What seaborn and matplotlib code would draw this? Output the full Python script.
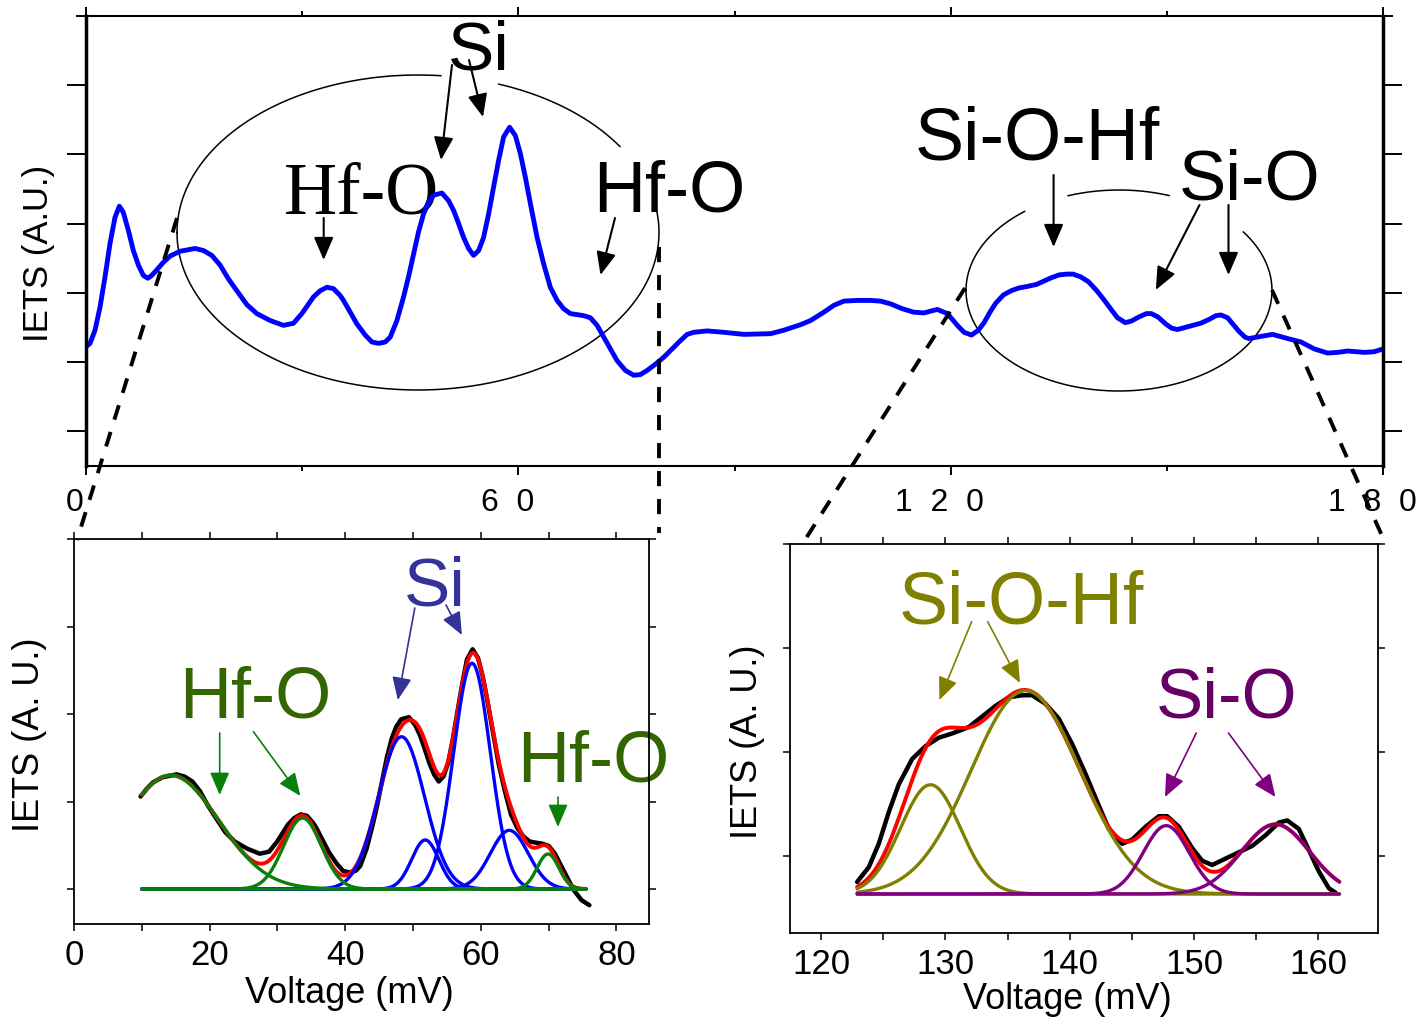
import numpy as np
import matplotlib
matplotlib.use("Agg")
import matplotlib.pyplot as plt
from matplotlib.transforms import ScaledTranslation
import seaborn as sns

# ---------------- measured IETS spectrum ----------------
voltage = [0.0, 0.56, 1.25, 1.94, 2.64, 3.33, 4.03, 4.63, 5.18, 5.88, 6.57, 7.27, 7.96,
           8.57, 9.12, 9.82, 10.74, 11.67, 13.06, 15.14, 16.30, 17.46, 18.61, 19.77,
           20.93, 22.32, 23.71, 25.56, 27.40, 28.79, 29.96, 31.57, 32.50, 33.43, 34.35,
           35.28, 35.74, 36.67, 37.60, 38.75, 39.68, 40.60, 41.53, 42.22, 43.15, 44.07,
           44.76, 45.46, 46.15, 46.85, 47.54, 48.24, 49.40, 50.32, 51.01, 51.71, 52.40,
           53.10, 53.79, 54.49, 55.18, 55.88, 56.57, 57.26, 57.96, 58.79, 59.58, 60.28,
           60.97, 61.67, 62.60, 63.51, 64.44, 65.38, 66.29, 67.22, 69.07, 70.00, 70.93,
           71.85, 72.78, 73.71, 74.86, 76.01, 76.94, 77.88, 79.03, 80.18, 81.35, 82.50,
           83.43, 84.35, 86.20, 88.51, 91.29, 95.00, 96.85, 99.17, 100.56, 102.40,
           103.80, 105.18, 107.00, 108.89, 110.28, 111.67, 113.29, 114.90, 116.29,
           118.15, 119.54, 120.93, 121.85, 122.90, 123.84, 124.64, 125.45, 126.25,
           127.33, 128.40, 129.47, 130.55, 131.88, 132.96, 134.03, 135.10, 136.18,
           136.98, 138.05, 139.12, 140.20, 141.27, 142.34, 143.15, 144.22, 145.03,
           146.10, 147.17, 147.84, 148.78, 149.85, 150.66, 151.46, 152.53, 153.60,
           154.68, 155.75, 156.82, 157.50, 158.43, 159.24, 160.04, 160.85, 161.38,
           163.06, 164.68, 166.76, 168.61, 170.46, 172.32, 173.70, 175.10, 177.40,
           178.79, 180.0]
iets = [1.22, 1.27, 1.46, 1.79, 2.23, 2.71, 3.09, 3.25, 3.16, 2.90, 2.61, 2.40, 2.25,
        2.21, 2.25, 2.33, 2.44, 2.53, 2.60, 2.64, 2.61, 2.54, 2.40, 2.20,
        2.03, 1.83, 1.70, 1.60, 1.53, 1.56, 1.70, 1.94, 2.03, 2.08, 2.06,
        1.96, 1.89, 1.72, 1.55, 1.39, 1.29, 1.27, 1.29, 1.36, 1.60, 1.94,
        2.23, 2.56, 2.88, 3.14, 3.31, 3.41, 3.44, 3.33, 3.19, 3.00, 2.80,
        2.64, 2.54, 2.61, 2.80, 3.14, 3.53, 3.91, 4.25, 4.39, 4.27, 4.01,
        3.67, 3.29, 2.80, 2.42, 2.08, 1.89, 1.77, 1.70, 1.67, 1.64, 1.53,
        1.36, 1.19, 1.02, 0.88, 0.81, 0.82, 0.88, 0.97, 1.07, 1.19, 1.31,
        1.40, 1.43, 1.45, 1.43, 1.40, 1.41, 1.46, 1.54, 1.60, 1.72,
        1.82, 1.88, 1.89, 1.89, 1.88, 1.84, 1.77, 1.72, 1.71,
        1.76, 1.70, 1.53, 1.43, 1.39, 1.46, 1.57, 1.72, 1.85,
        1.97, 2.03, 2.07, 2.09, 2.12, 2.17, 2.22, 2.26, 2.27,
        2.27, 2.23, 2.16, 2.04, 1.90, 1.75, 1.64, 1.57, 1.59,
        1.65, 1.70, 1.70, 1.65, 1.55, 1.49, 1.47, 1.50, 1.53,
        1.56, 1.61, 1.67, 1.68, 1.64, 1.54, 1.44, 1.36, 1.34,
        1.37, 1.40, 1.34, 1.29, 1.19, 1.13, 1.14, 1.16, 1.14,
        1.15, 1.19]

# ---------------- low-energy window: Hf-O and Si modes ----------------
lo_range = (9.8, 76.1)
lo_scale, lo_offset = 0.817, -0.847
hfo_center = [14.3, 33.7, 69.9]
hfo_height = [1.30, 0.81, 0.40]
hfo_sigma = [7.0, 2.8, 1.6]
si_center = [48.3, 51.8, 58.7, 64.2]
si_height = [1.74, 0.56, 2.58, 0.67]
si_sigma = [3.4, 2.0, 2.7, 2.8]

# ---------------- high-energy window: Si-O-Hf and Si-O modes ----------------
hi_range = (122.8, 161.5)
hi_scale, hi_offset = 2.04, -2.72
siohf_center = [128.8, 136.45]
siohf_height = [1.05, 1.955]
siohf_sigma = [2.4, 4.4]
sio_center = [147.76, 156.56]
sio_height = [0.657, 0.67]
sio_sigma = [1.85, 2.75]

top_xticks = [0, 60, 120, 180]
top_xlabels = ["0", "6  0", "1  2  0", "1  8  0"]
lo_xticks = [0, 20, 40, 60, 80]
hi_xticks = [120, 130, 140, 150, 160]


def gauss(v, c, h, s):
    return h * np.exp(-0.5 * ((v - c) / s) ** 2)


sns.set_theme(style="ticks")
plt.rcParams["font.family"] = ["Liberation Sans", "DejaVu Sans"]
plt.rcParams.update({
    "axes.edgecolor": "black", "xtick.color": "black", "ytick.color": "black",
    "text.color": "black", "axes.labelcolor": "black",
})

W, H = 1422, 1017
fig = plt.figure(figsize=(W / 100, H / 100), dpi=100, facecolor="white")


def px_box(l, t, r, b):
    return [l / W, 1 - b / H, (r - l) / W, (b - t) / H]


ov_back = fig.add_axes([0, 0, 1, 1], zorder=0)
ax_top = fig.add_axes(px_box(86, 15.7, 1383, 466), zorder=1)
ax_lo = fig.add_axes(px_box(74, 539, 649, 924), zorder=1)
ax_hi = fig.add_axes(px_box(790, 544, 1378, 933), zorder=1)
ov_front = fig.add_axes([0, 0, 1, 1], zorder=2)
for ov in (ov_back, ov_front):
    ov.set_xlim(0, W)
    ov.set_ylim(H, 0)
    ov.axis("off")
    ov.patch.set_alpha(0)
for ax in (ax_top, ax_lo, ax_hi):
    ax.patch.set_alpha(0)
    ax.grid(False)

v = np.array(voltage)
s = np.array(iets)

# ---------------- full spectrum ----------------
sns.lineplot(x=v, y=s, ax=ax_top, color="#0000ff", linewidth=3.5,
             sort=False, estimator=None, legend=False)
ax_top.set_xlim(0, 180)
ax_top.set_ylim(-0.5, 6.0)
for side in ("left", "right"):
    ax_top.spines[side].set_linewidth(2.5)
for side in ("top", "bottom"):
    ax_top.spines[side].set_linewidth(1.5)
ax_top.set_xticks(top_xticks)
ax_top.set_xticklabels(top_xlabels)
ax_top.set_xticks([30, 90, 150], minor=True)
ax_top.set_yticks(range(6))
ax_top.set_yticks([6.0], minor=True)
ax_top.tick_params(axis="x", which="major", direction="out", length=6.5, width=1.4,
                   top=True, bottom=True, labelsize=23, pad=9)
ax_top.tick_params(axis="x", which="minor", direction="out", length=3.5, width=1.4,
                   top=True, bottom=True)
ax_top.tick_params(axis="y", which="major", direction="out", length=13.5, width=1.4,
                   left=True, right=True, labelleft=False)
ax_top.tick_params(axis="y", which="minor", direction="out", length=7, width=1.4,
                   left=True, right=True, labelleft=False)
for lab in ax_top.get_xticklabels():
    lab.set_transform(lab.get_transform() + ScaledTranslation(-0.11, 0, fig.dpi_scale_trans))
ax_top.set_xlabel("")
ax_top.set_ylabel("IETS (A.U.)", fontsize=25, va="center")
ax_top.yaxis.set_label_coords(-0.037, 0.473)

# ---------------- low-energy window ----------------
m = (v >= lo_range[0]) & (v <= lo_range[1])
vlo = np.linspace(10, 75.5, 500)
lo_fit = sum(gauss(vlo, c, h, w) for c, h, w in zip(hfo_center, hfo_height, hfo_sigma)) \
    + sum(gauss(vlo, c, h, w) for c, h, w in zip(si_center, si_height, si_sigma))
sns.lineplot(x=v[m], y=lo_scale * s[m] + lo_offset, ax=ax_lo, color="black",
             linewidth=3.2, sort=False, estimator=None, legend=False)
sns.lineplot(x=vlo, y=lo_fit, ax=ax_lo, color="#ff0000", linewidth=2.8,
             sort=False, estimator=None, legend=False)
for c, h, w in zip(si_center, si_height, si_sigma):
    sns.lineplot(x=vlo, y=gauss(vlo, c, h, w), ax=ax_lo, color="#0000ff",
                 linewidth=2.4, sort=False, estimator=None, legend=False)
for c, h, w in zip(hfo_center, hfo_height, hfo_sigma):
    sns.lineplot(x=vlo, y=gauss(vlo, c, h, w), ax=ax_lo, color="#0a800a",
                 linewidth=2.4, sort=False, estimator=None, legend=False)
ax_lo.set_xlim(0, 84.8)
ax_lo.set_ylim(-0.4, 4.0)
ax_lo.set_xticks(lo_xticks)
ax_lo.set_xticks([10, 30, 50, 70], minor=True)
ax_lo.set_yticks([0, 1, 2, 3, 4])

# ---------------- high-energy window ----------------
m2 = (v >= hi_range[0]) & (v <= hi_range[1])
vhi = np.linspace(122.9, 161.7, 500)
hi_fit = sum(gauss(vhi, c, h, w) for c, h, w in zip(siohf_center, siohf_height, siohf_sigma)) \
    + sum(gauss(vhi, c, h, w) for c, h, w in zip(sio_center, sio_height, sio_sigma))
sns.lineplot(x=v[m2], y=hi_scale * s[m2] + hi_offset, ax=ax_hi, color="black",
             linewidth=3.2, sort=False, estimator=None, legend=False)
sns.lineplot(x=vhi, y=hi_fit, ax=ax_hi, color="#ff0000", linewidth=2.8,
             sort=False, estimator=None, legend=False)
for c, h, w in zip(siohf_center, siohf_height, siohf_sigma):
    sns.lineplot(x=vhi, y=gauss(vhi, c, h, w), ax=ax_hi, color="#808000",
                 linewidth=2.4, sort=False, estimator=None, legend=False)
for c, h, w in zip(sio_center, sio_height, sio_sigma):
    sns.lineplot(x=vhi, y=gauss(vhi, c, h, w), ax=ax_hi, color="#800080",
                 linewidth=2.4, sort=False, estimator=None, legend=False)
ax_hi.set_xlim(117.5, 164.8)
ax_hi.set_ylim(-0.375, 3.365)
ax_hi.set_xticks(hi_xticks)
ax_hi.set_xticks([125, 135, 145, 155], minor=True)
ax_hi.set_yticks([0.365, 1.365, 2.365, 3.365])

for ax, lx, ly, yx, yy in ((ax_lo, 0.479, -0.18, -0.078, 0.491),
                           (ax_hi, 0.471, -0.172, -0.073, 0.491)):
    for sp in ax.spines.values():
        sp.set_linewidth(1.3)
    ax.tick_params(axis="x", which="both", direction="out", length=5, width=1.1,
                   top=True, bottom=True, labelsize=25, pad=6)
    ax.tick_params(axis="y", which="both", direction="out", length=5, width=1.1,
                   left=True, right=True, labelleft=False)
    ax.set_xlabel("Voltage (mV)", fontsize=26, va="center")
    ax.xaxis.set_label_coords(lx, ly)
    ax.set_ylabel("IETS (A. U.)", fontsize=26, va="center")
    ax.yaxis.set_label_coords(yx, yy)


# ---------------- annotations ----------------
def ellipse(ax, cx, cy, a, b, gaps, **kw):
    t = np.arange(-180, 180.25, 0.25)
    keep = np.ones_like(t, dtype=bool)
    for g0, g1 in gaps:
        keep &= ~((t > g0) & (t < g1))
    x = np.where(keep, cx + a * np.cos(np.radians(t)), np.nan)
    y = np.where(keep, cy + b * np.sin(np.radians(t)), np.nan)
    ax.plot(x, y, **kw)


def arrow(ax, tail, tip, color, lw=1.5, hl=0.7, hw=0.3):
    ax.annotate("", xy=tip, xytext=tail,
                arrowprops=dict(arrowstyle=f"-|>,head_length={hl},head_width={hw}",
                                color=color, lw=lw, shrinkA=0, shrinkB=0,
                                mutation_scale=20))


ellipse(ov_back, 418, 232.5, 241, 157.5, [(-84.5, -70.6), (-33, -8)],
        color="black", lw=1.1)
ellipse(ov_back, 1119, 290.5, 153, 100.5, [(-128, -109.5), (-70.7, -35.9)],
        color="black", lw=1.1)

black_arrows = [((452, 65), (441, 160)), ((469, 60), (483, 117)),
                ((323.7, 218), (323.7, 260)), ((615, 218), (600.5, 275)),
                ((1053.6, 175), (1053.6, 247)), ((1199.5, 205), (1155.8, 290)),
                ((1228.5, 205), (1228.5, 275))]
for tail, tip in black_arrows:
    arrow(ov_back, tail, tip, "black", lw=1.5)

color_arrows = [((219.7, 733), (219.7, 795), "#0a800a"),
                ((253.4, 731.7), (300.4, 796), "#0a800a"),
                ((558, 797), (558, 827), "#0a800a"),
                ((414.8, 608), (397.8, 700), "#333399"),
                ((446, 605), (461.9, 635), "#333399"),
                ((971.6, 621.7), (939.4, 700), "#808000"),
                ((987.7, 621.7), (1020, 683), "#808000"),
                ((1196.3, 733), (1165, 797), "#800080"),
                ((1228.5, 733), (1275.5, 797), "#800080")]
for tail, tip, col in color_arrows:
    arrow(ov_back, tail, tip, col, lw=1.2, hl=0.7, hw=0.3)

sans = ["Liberation Sans", "DejaVu Sans"]
serif = ["Liberation Serif", "DejaVu Serif"]
labels = [
    ("Si", 479, 70, 50, "black", sans),
    ("Hf-O", 361.5, 213, 53, "black", serif),
    ("Hf-O", 669, 212, 52, "black", sans),
    ("Si-O-Hf", 1037, 159, 53, "black", sans),
    ("Si-O", 1249.5, 200, 51, "black", sans),
    ("Hf-O", 255.5, 718, 52, "#336600", sans),
    ("Si", 435, 606, 50, "#333399", sans),
    ("Hf-O", 593, 781, 52, "#336600", sans),
    ("Si-O-Hf", 1021, 623, 53, "#808000", sans),
    ("Si-O", 1227, 718, 51, "#660066", sans),
]
for txt, x, y, fs, col, fam in labels:
    ov_back.text(x, y, txt, fontsize=fs, color=col, family=fam,
                 ha="center", va="baseline")

# zoom connectors from the survey spectrum to the two windows
connectors = [((177, 218), (77, 540)), ((659, 247), (659, 533)),
              ((965, 288), (803, 543)), ((1272, 290), (1383, 538))]
for (x0, y0), (x1, y1) in connectors:
    ov_front.plot([x0, x1], [y0, y1], color="black", lw=2.8,
                  linestyle=(0, (3.9, 3.3)))

fig.savefig("out.png", dpi=100, facecolor="white")
